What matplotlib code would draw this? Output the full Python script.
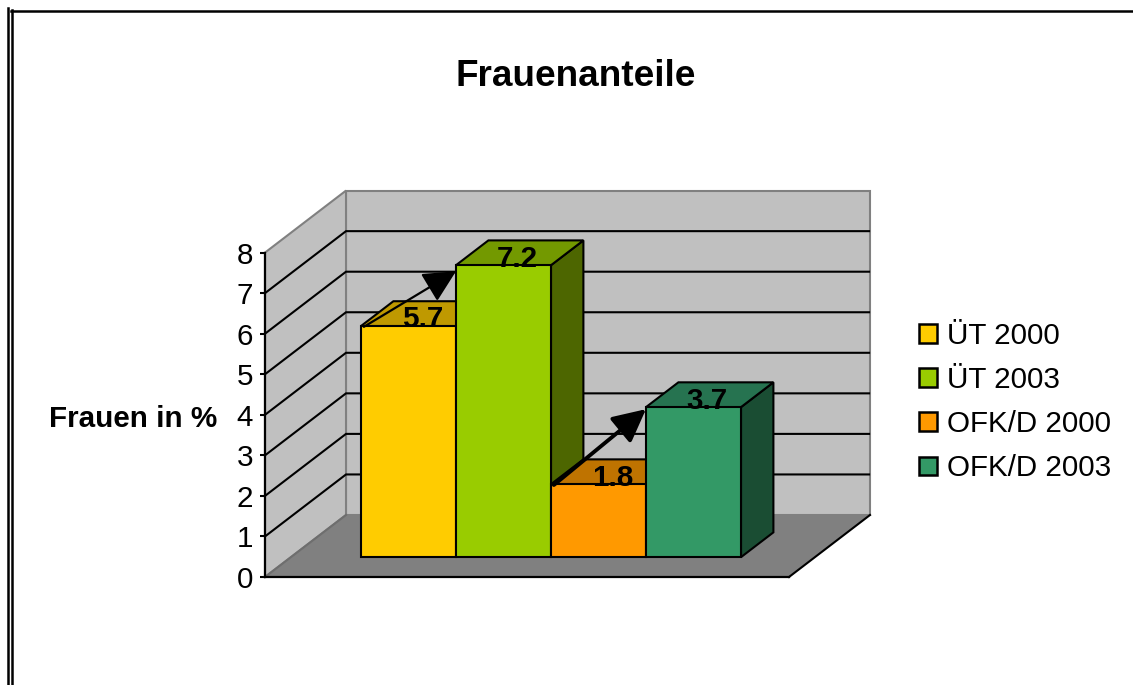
import matplotlib
matplotlib.use('Agg')
import matplotlib.pyplot as plt
from matplotlib.lines import Line2D
from matplotlib.patches import Patch, Polygon

plt.rcParams['font.family'] = ['Liberation Sans', 'DejaVu Sans']

# Daten
labels = ['ÜT 2000', 'ÜT 2003', 'OFK/D 2000', 'OFK/D 2003']
values = [5.7, 7.2, 1.8, 3.7]
y_ticks = [0, 1, 2, 3, 4, 5, 6, 7, 8]
# Pfeile zwischen den Balken: Start- und Endhoehe
arrow_from = [5.68, 1.78]
arrow_to = [7.05, 3.65]
arrow_bars = [0, 2]

# Farben
front_colors = ['#FFCC00', '#99CC00', '#FF9900', '#339966']
top_colors = ['#BF9900', '#739900', '#BF7300', '#267350']
side_colors = ['#806600', '#4D6600', '#804D00', '#1A4D33']

W, H = 1133, 685
fig = plt.figure(figsize=(W / 100, H / 100), dpi=100, facecolor='white')

# Achse = Vorderkante der 3D-Grafik
left, right, bottom, top = 265, 789, 577, 252.6
ax = fig.add_axes([left / W, 1 - bottom / H, (right - left) / W, (bottom - top) / H])
ax.set_xlim(0, (right - left) / 95)
ax.set_ylim(0, 8)
ax.patch.set_visible(False)

# Tiefe in Achseneinheiten
depth_x = 81 / 95
depth_y = 62 / 40.55
bar_d0 = 0.32
bar_d1 = 0.72
bar_start = (361 - left - 81 * bar_d0) / 95


def proj(x, v, d):
    return (x + d * depth_x, v + d * depth_y)


def face(points, color, edge='black', lw=1.5, z=2):
    ax.add_patch(Polygon(points, closed=True, facecolor=color, edgecolor=edge,
                         linewidth=lw, zorder=z, clip_on=False, joinstyle='miter'))


x_end = ax.get_xlim()[1]

# Wand und Boden
face([proj(0, 0, 1), proj(x_end, 0, 1), proj(x_end, 8, 1), proj(0, 8, 1)], '#C0C0C0', '#808080', 1.5, 1)
face([proj(0, 0, 0), proj(0, 0, 1), proj(0, 8, 1), proj(0, 8, 0)], '#C0C0C0', '#808080', 1.5, 1)
face([proj(0, 0, 0), proj(x_end, 0, 0), proj(x_end, 0, 1), proj(0, 0, 1)], '#808080', 'none', 0, 1.5)
ax.plot(*zip(proj(0, 0, 0), proj(0, 0, 1)), color='#6E6E6E', lw=1.5, zorder=1.6, clip_on=False)
ax.plot(*zip(proj(x_end, 0, 0), proj(x_end, 0, 1)), color='black', lw=1.5, zorder=1.6, clip_on=False)

# Gitterlinien (oberste Kante bleibt grau)
for t in y_ticks[1:-1]:
    ax.plot(*zip(proj(0, t, 0), proj(0, t, 1), proj(x_end - 0.01, t, 1)), color='black', lw=1.5,
            zorder=1.4, clip_on=False, solid_joinstyle='miter')

# Balken
for i, v in enumerate(values):
    x0 = bar_start + i
    x1 = x0 + 1
    face([proj(x1, 0, bar_d0), proj(x1, 0, bar_d1), proj(x1, v, bar_d1), proj(x1, v, bar_d0)],
         side_colors[i], z=2 + i)
    face([proj(x0, v, bar_d0), proj(x1, v, bar_d0), proj(x1, v, bar_d1), proj(x0, v, bar_d1)],
         top_colors[i], z=2 + i)
    face([proj(x0, 0, bar_d0), proj(x1, 0, bar_d0), proj(x1, v, bar_d0), proj(x0, v, bar_d0)],
         front_colors[i], z=2 + i)
    cx, cy = proj(x0 + 0.5, v, bar_d0)
    ax.annotate(f'{v:.1f}', xy=(cx, cy), xytext=(10, -1), textcoords='offset points',
                ha='center', va='baseline', fontsize=21.3, fontweight='bold', color='black',
                zorder=20)

# Pfeile
widths = [1.6, 2.8]
for n, i in enumerate(arrow_bars):
    start = proj(bar_start + i + 0.03, arrow_from[n], bar_d0)
    end = proj(bar_start + i + 1, arrow_to[n], bar_d0)
    ax.annotate('', xy=end, xytext=start,
                arrowprops=dict(arrowstyle='-|>,head_length=2.0,head_width=1.0', mutation_scale=10,
                                color='black', lw=widths[n], shrinkA=0, shrinkB=0),
                zorder=15)

# Achsen
for s in ['top', 'right']:
    ax.spines[s].set_visible(False)
for s in ['left', 'bottom']:
    ax.spines[s].set_linewidth(1.6)
    ax.spines[s].set_zorder(1.8)
ax.set_xticks([])
ax.set_yticks(y_ticks)
ax.tick_params(axis='y', labelsize=21.3, length=3.5, width=1.5, pad=5)
ax.set_ylabel('Frauen in %', rotation=0, ha='right', va='center', fontsize=21.3,
              fontweight='bold', labelpad=14, y=0.488)

# Titel
fig.text(575.5 / W, 1 - 86 / H, 'Frauenanteile', ha='center', va='baseline', fontsize=26.6,
         fontweight='bold')

# Legende
handles = [Patch(facecolor=c, edgecolor='black', linewidth=1.8) for c in front_colors]
ax.legend(handles, labels, loc='center left', bbox_to_anchor=(919 / W, 1 - 402 / H),
          bbox_transform=fig.transFigure, frameon=False, fontsize=21.3, handlelength=0.6,
          handleheight=0.6, handletextpad=0.33, labelspacing=0.55, borderpad=0, borderaxespad=0)

# Rahmen
for x, y0 in [(8, 8), (12, 10)]:
    fig.add_artist(Line2D([x / W, x / W], [1 - y0 / H, 0], color='black', lw=1.8))
fig.add_artist(Line2D([11 / W, 1], [1 - 11 / H, 1 - 11 / H], color='black', lw=1.8))

fig.savefig('out.png', dpi=100, facecolor='white')
